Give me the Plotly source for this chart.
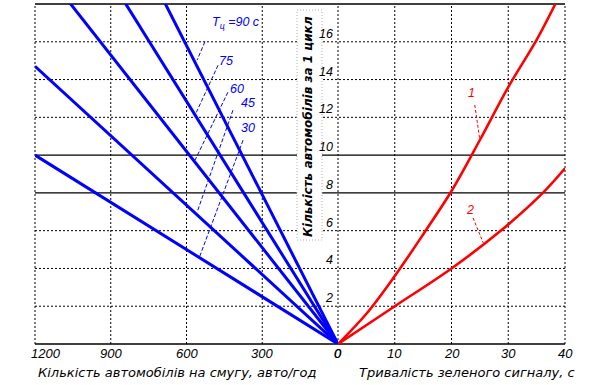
import plotly.graph_objects as go

W, H = 596, 385

# ---------------- data ----------------
# left panel: cars per cycle vs. lane intensity, one line per cycle length
cycle_labels = ["90", "75", "60", "45", "30"]
q_end = 1200
n_at_qend = [31.6, 25.7, 20.4, 14.7, 10.0]

# right panel: cars per cycle vs. green time
t_curve1 = [0, 5, 10, 15, 20, 25, 30, 35, 38.3]
n_curve1 = [0, 1.6, 3.6, 5.8, 8.1, 10.8, 13.6, 16.1, 18.0]
t_curve2 = [0, 10, 20, 28.5, 36.1, 40]
n_curve2 = [0, 2.0, 4.0, 5.95, 8.0, 9.3]

left_ticks = [1200, 900, 600, 300, 0]
right_ticks = [0, 10, 20, 30, 40]
y_ticks = [2, 4, 6, 8, 10, 12, 14, 16]
y_solid = [8, 10]
y_max = 18

# label positions (data coords of left / right panel)
cycle_label_pos = [(507, 16.98), (443, 14.97), (400, 13.5), (356, 12.75), (356, 11.43)]
cycle_leaders = [((527, 16.0), (558, 15.03)),
                 ((475, 14.76), (566, 12.12)),
                 ((436, 13.33), (566, 9.74)),
                 ((416, 12.38), (558, 6.98)),
                 ((376, 10.79), (547, 4.66))]
curve_labels = ["1", "2"]
curve_label_pos = [(23.6, 13.3), (23.3, 7.1)]
curve_leaders = [((24.1, 12.65), (25.0, 10.8)), ((23.8, 6.67), (25.6, 5.35))]

left_title = "Кількість автомобілів на смугу, авто/год"
right_title = "Тривалість зеленого сигналу, с"
y_title = "Кількість автомобілів за 1 цикл"

# ---------------- geometry ----------------
xl0, xm, xr1 = 35 / W, 338 / W, 565 / W
yb, yt = (H - 344) / H, (H - 4) / H

BLUE = "#0000ff"
RED = "#ff0000"
FONT = "Liberation Sans, Arial, sans-serif"
WIDE = "DejaVu Sans, sans-serif"

fig = go.Figure()

for lab, n in zip(cycle_labels, n_at_qend):
    fig.add_trace(go.Scatter(x=[0, q_end], y=[0, n], xaxis="x", yaxis="y", mode="lines",
                             line=dict(color=BLUE, width=3), showlegend=False, hoverinfo="skip"))

for (a, b) in cycle_leaders:
    fig.add_trace(go.Scatter(x=[a[0], b[0]], y=[a[1], b[1]], xaxis="x", yaxis="y", mode="lines",
                             line=dict(color=BLUE, width=1, dash="4px,2px"), showlegend=False,
                             hoverinfo="skip"))

fig.add_trace(go.Scatter(x=t_curve1, y=n_curve1, xaxis="x2", yaxis="y", mode="lines",
                         line=dict(color=RED, width=2.6, shape="spline"), showlegend=False))
fig.add_trace(go.Scatter(x=t_curve2, y=n_curve2, xaxis="x2", yaxis="y", mode="lines",
                         line=dict(color=RED, width=2.6, shape="spline"), showlegend=False))
for (a, b) in curve_leaders:
    fig.add_trace(go.Scatter(x=[a[0], b[0]], y=[a[1], b[1]], xaxis="x2", yaxis="y", mode="lines",
                             line=dict(color=RED, width=1, dash="3px,2px"), showlegend=False,
                             hoverinfo="skip"))

shapes = []
DOT = "2px,2px"
# horizontal grid
for v in y_ticks:
    solid = v in y_solid
    shapes.append(dict(type="line", xref="paper", yref="y", x0=xl0, x1=xr1, y0=v, y1=v,
                       line=dict(color="black", width=1.3 if solid else 1,
                                 dash="solid" if solid else DOT),
                       layer="below"))
# vertical grid
for v in left_ticks[1:-1]:
    shapes.append(dict(type="line", xref="x", yref="paper", x0=v, x1=v, y0=yb, y1=yt,
                       line=dict(color="black", width=1, dash=DOT), layer="below"))
for v in right_ticks[1:-1]:
    shapes.append(dict(type="line", xref="x2", yref="paper", x0=v, x1=v, y0=yb, y1=yt,
                       line=dict(color="black", width=1, dash=DOT), layer="below"))
# frame
for xx in (xl0, xm, xr1):
    shapes.append(dict(type="line", xref="paper", yref="paper", x0=xx, x1=xx, y0=yb, y1=yt,
                       line=dict(color="black", width=1, dash=DOT), layer="below"))
for yy in (yb, yt):
    shapes.append(dict(type="line", xref="paper", yref="paper", x0=xl0, x1=xr1, y0=yy, y1=yy,
                       line=dict(color="black", width=1.3), layer="below"))
# white box behind y title
shapes.append(dict(type="rect", xref="paper", yref="paper", x0=297 / W, x1=322 / W,
                   y0=(H - 240) / H, y1=(H - 10) / H, fillcolor="white",
                   line=dict(color="#b0b0b0", width=1, dash="1px,2px"), layer="above"))

ann = []
tick_y = (H - 353) / H
for v in left_ticks:
    a = dict(x=v, xref="x", y=tick_y, yref="paper", text=f"<i>{v}</i>", showarrow=False,
             font=dict(size=13, color="black", family=FONT), xanchor="center", yanchor="middle")
    if v == left_ticks[0]:
        a.update(xanchor="left", xshift=-6)
    ann.append(a)
for v in right_ticks:
    ann.append(dict(x=v, xref="x2", y=tick_y, yref="paper", text=f"<i>{v}</i>", showarrow=False,
                    font=dict(size=13, color="black", family=FONT), xanchor="center",
                    yanchor="middle"))
for v in y_ticks:
    ann.append(dict(x=335 / W, xref="paper", y=v, yref="y", yshift=8, text=f"<i>{v}</i>",
                    showarrow=False, font=dict(size=12.5, color="black", family=FONT),
                    xanchor="right", yanchor="middle"))

title_y = (H - 372) / H
ann.append(dict(x=638, xref="x", y=title_y, yref="paper", text=f"<i>{left_title}</i>",
                showarrow=False, font=dict(size=13, color="black", family=WIDE),
                xanchor="center", yanchor="middle"))
ann.append(dict(x=22.7, xref="x2", y=title_y, yref="paper", text=f"<i>{right_title}</i>",
                showarrow=False, font=dict(size=13, color="black", family=WIDE),
                xanchor="center", yanchor="middle"))
ann.append(dict(x=308 / W, xref="paper", y=(H - 127) / H, yref="paper",
                text=f"<b><i>{y_title}</i></b>", textangle=-90, showarrow=False,
                font=dict(size=12, color="black", family=WIDE),
                xanchor="center", yanchor="middle"))

for i, (lab, (qx, ny)) in enumerate(zip(cycle_labels, cycle_label_pos)):
    txt = f"<i>T<sub>ц</sub> ={lab} с</i>" if i == 0 else f"<i>{lab}</i>"
    ann.append(dict(x=qx, xref="x", y=ny, yref="y", text=txt, showarrow=False,
                    font=dict(size=12.5, color=BLUE, family=FONT),
                    xanchor="left" if i == 0 else "center", yanchor="middle"))
for lab, (tx, ny) in zip(curve_labels, curve_label_pos):
    ann.append(dict(x=tx, xref="x2", y=ny, yref="y", text=f"<i>{lab}</i>", showarrow=False,
                    font=dict(size=12.5, color=RED, family=FONT),
                    xanchor="center", yanchor="middle"))

fig.update_layout(
    width=W, height=H, margin=dict(l=0, r=0, t=0, b=0),
    paper_bgcolor="white", plot_bgcolor="rgba(0,0,0,0)",
    showlegend=False,
    xaxis=dict(domain=[xl0, xm], range=[q_end, 0], showgrid=False, zeroline=False,
               showticklabels=False, ticks="", showline=False, anchor="y"),
    xaxis2=dict(domain=[xm, xr1], range=[right_ticks[0], right_ticks[-1]], showgrid=False,
                zeroline=False, showticklabels=False, ticks="", showline=False, anchor="y"),
    yaxis=dict(domain=[yb, yt], range=[0, y_max], showgrid=False, zeroline=False,
               showticklabels=False, ticks="", showline=False, anchor="x"),
    shapes=shapes, annotations=ann,
)

fig.write_html("out.html", config={"displayModeBar": False},
               post_script="document.body.style.margin='0';document.body.style.overflow='hidden';")
